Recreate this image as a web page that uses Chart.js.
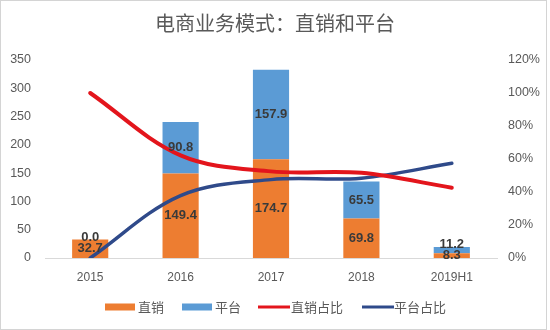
<!DOCTYPE html>
<html>
<head>
<meta charset="utf-8">
<script src="https://cdn.jsdelivr.net/npm/chart.js@4/dist/chart.umd.min.js"></script>
<style>
html,body{margin:0;padding:0;background:#fff;}
#wrap{width:550px;height:330px;}
</style>
</head>
<body>
<div id="wrap"><canvas id="c" width="550" height="330"></canvas></div>
<script>
const categories = ['2015', '2016', '2017', '2018', '2019H1'];
const directSales = [32.7, 149.4, 174.7, 69.8, 8.3];
const platformSales = [0.0, 90.8, 157.9, 65.5, 11.2];
const directShare = [100, 62.2, 52.5, 51.6, 42.6];
const platformShare = [0, 37.8, 47.5, 48.4, 57.4];
const seriesNames = ['直销', '平台', '直销占比', '平台占比'];
const titleText = '电商业务模式：直销和平台';
const leftMax = 350, leftStep = 50;
const rightMax = 120, rightStep = 20;

const ORANGE = '#ED7D31', BLUE = '#5B9BD5', RED = '#E3151C', NAVY = '#2F4A8A';
const GRAY = '#595959';
const FONT = "'Liberation Sans', Arial, sans-serif";
const CJK = "'Noto Sans CJK SC', 'Noto Sans', sans-serif";

const overlay = {
  id: 'overlay',
  beforeDraw(chart) {
    const ctx = chart.ctx;
    ctx.save();
    ctx.fillStyle = '#fff';
    ctx.fillRect(0, 0, chart.width, chart.height);
    ctx.restore();
  },
  afterDatasetsDraw(chart) {
    const ctx = chart.ctx;
    const m0 = chart.getDatasetMeta(0), m1 = chart.getDatasetMeta(1);
    ctx.save();
    ctx.font = 'bold 13px ' + FONT;
    ctx.fillStyle = '#3a3a3a';
    ctx.textAlign = 'center';
    ctx.textBaseline = 'middle';
    for (let i = 0; i < categories.length; i++) {
      const e0 = m0.data[i], e1 = m1.data[i];
      const y0 = (e0.y + e0.base) / 2;
      let y1 = (e1.y + e1.base) / 2;
      if (y1 > y0 - 11) y1 = y0 - 11;
      ctx.fillText(directSales[i].toFixed(1), e0.x, y0);
      ctx.fillText(platformSales[i].toFixed(1), e1.x, y1);
    }
    ctx.restore();
  },
  afterDraw(chart) {
    const ctx = chart.ctx;
    ctx.save();
    // title
    ctx.font = '20px ' + CJK;
    ctx.fillStyle = GRAY;
    ctx.textAlign = 'center';
    ctx.textBaseline = 'middle';
    ctx.fillText(titleText, 275, 23);
    // legend
    const ly = 307;
    ctx.font = '13px ' + CJK;
    ctx.textAlign = 'left';
    const items = [
      {type: 'box', color: ORANGE, x: 105, tx: 138, name: seriesNames[0]},
      {type: 'box', color: BLUE, x: 182, tx: 215, name: seriesNames[1]},
      {type: 'line', color: RED, x: 258, tx: 291, name: seriesNames[2]},
      {type: 'line', color: NAVY, x: 362, tx: 394, name: seriesNames[3]}
    ];
    items.forEach(it => {
      if (it.type === 'box') {
        ctx.fillStyle = it.color;
        ctx.fillRect(it.x, ly - 3.5, 30, 7);
      } else {
        ctx.strokeStyle = it.color;
        ctx.lineWidth = 3;
        ctx.beginPath();
        ctx.moveTo(it.x, ly);
        ctx.lineTo(it.x + 32, ly);
        ctx.stroke();
      }
      ctx.fillStyle = GRAY;
      ctx.fillText(it.name, it.tx, ly);
    });
    // frame
    ctx.strokeStyle = '#d4d4d4';
    ctx.lineWidth = 1;
    ctx.strokeRect(0.5, 0.5, 546, 329);
    ctx.restore();
  }
};

new Chart(document.getElementById('c'), {
  type: 'bar',
  data: {
    labels: categories,
    datasets: [
      {label: seriesNames[0], data: directSales, backgroundColor: ORANGE, yAxisID: 'y', order: 1,
       barPercentage: 0.4, categoryPercentage: 1.0},
      {label: seriesNames[1], data: platformSales, backgroundColor: BLUE, yAxisID: 'y', order: 1,
       barPercentage: 0.4, categoryPercentage: 1.0},
      {type: 'line', label: seriesNames[2], data: directShare, borderColor: RED, backgroundColor: RED,
       borderWidth: 4, pointRadius: 0, tension: 0.35, yAxisID: 'y1', order: 0, borderCapStyle: 'round'},
      {type: 'line', label: seriesNames[3], data: platformShare, borderColor: NAVY, backgroundColor: NAVY,
       borderWidth: 3.5, pointRadius: 0, tension: 0.35, yAxisID: 'y1', order: 0, borderCapStyle: 'round'}
    ]
  },
  options: {
    responsive: false,
    animation: false,
    layout: {padding: {top: 60, bottom: 42, left: 0, right: 0}},
    plugins: {legend: {display: false}, title: {display: false}, tooltip: {enabled: false}},
    scales: {
      x: {
        stacked: true,
        grid: {display: false, drawTicks: false},
        border: {display: true, color: '#d9d9d9', width: 1},
        ticks: {color: GRAY, font: {size: 12, family: FONT}, padding: 12},
        afterFit(a) { a.height = 30; }
      },
      y: {
        stacked: true,
        position: 'left',
        min: 0, max: leftMax,
        grid: {display: false, drawTicks: false},
        border: {display: false},
        ticks: {stepSize: leftStep, color: GRAY, font: {size: 12.5, family: FONT}, padding: 14},
        afterFit(a) { a.width = 45; }
      },
      y1: {
        position: 'right',
        min: 0, max: rightMax,
        grid: {display: false, drawTicks: false},
        border: {display: false},
        ticks: {stepSize: rightStep, color: GRAY, font: {size: 12.5, family: FONT}, padding: 11,
                callback: v => v + '%'},
        afterFit(a) { a.width = 53; }
      }
    }
  },
  plugins: [overlay]
});
</script>
</body>
</html>
